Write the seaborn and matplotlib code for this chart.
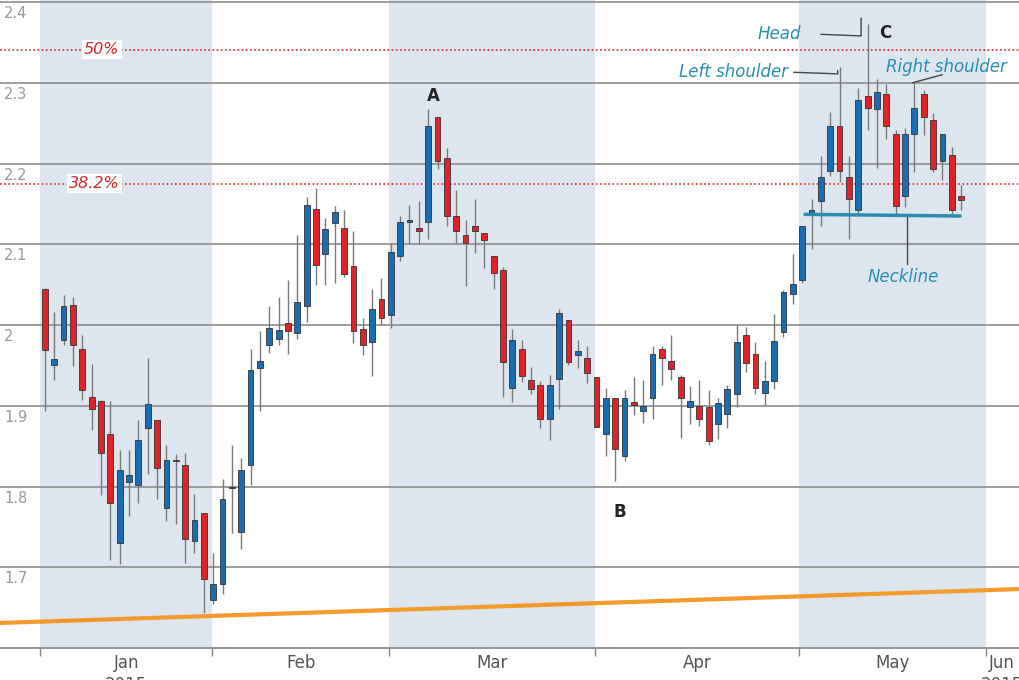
import matplotlib
matplotlib.use("Agg")
import matplotlib.pyplot as plt
import numpy as np
import pandas as pd
import seaborn as sns

# daily OHLC (trading-day index 0..98)
opens = [2.045, 1.951, 1.982, 2.025, 1.970, 1.911, 1.906, 1.865, 1.730, 1.805,
         1.802, 1.873, 1.882, 1.773, 1.832, 1.827, 1.733, 1.767, 1.659, 1.679,
         1.798, 1.744, 1.827, 1.947, 1.975, 1.983, 2.002, 1.990, 2.024, 2.144,
         2.088, 2.126, 2.120, 2.073, 1.995, 1.979, 2.032, 2.012, 2.086, 2.128,
         2.120, 2.128, 2.257, 2.207, 2.135, 2.111, 2.123, 2.114, 2.086, 2.068,
         1.922, 1.970, 1.932, 1.926, 1.884, 1.933, 2.006, 1.963, 1.959, 1.936,
         1.865, 1.910, 1.838, 1.905, 1.894, 1.909, 1.970, 1.956, 1.935, 1.898,
         1.900, 1.898, 1.877, 1.890, 1.915, 1.988, 1.964, 1.916, 1.931, 1.991,
         2.038, 2.056, 2.138, 2.154, 2.191, 2.247, 2.183, 2.143, 2.283, 2.267,
         2.286, 2.237, 2.160, 2.237, 2.286, 2.254, 2.203, 2.210, 2.160]
highs = [2.046, 2.016, 2.037, 2.035, 1.988, 1.952, 1.907, 1.906, 1.845, 1.845,
         1.882, 1.959, 1.882, 1.852, 1.840, 1.841, 1.791, 1.767, 1.718, 1.809,
         1.852, 1.835, 1.970, 1.993, 2.024, 2.035, 2.056, 2.112, 2.159, 2.170,
         2.133, 2.148, 2.143, 2.116, 2.009, 2.045, 2.058, 2.102, 2.135, 2.149,
         2.154, 2.267, 2.257, 2.219, 2.167, 2.130, 2.156, 2.114, 2.086, 2.072,
         1.995, 1.982, 1.948, 1.931, 1.938, 2.020, 2.006, 1.982, 1.974, 1.936,
         1.922, 1.910, 1.919, 1.935, 1.932, 1.974, 1.974, 1.988, 1.938, 1.925,
         1.932, 1.919, 1.909, 1.926, 2.000, 1.997, 1.979, 1.956, 2.014, 2.043,
         2.088, 2.123, 2.156, 2.209, 2.264, 2.319, 2.209, 2.294, 2.373, 2.305,
         2.299, 2.241, 2.244, 2.300, 2.291, 2.263, 2.236, 2.220, 2.173]
lows = [1.893, 1.932, 1.975, 1.949, 1.907, 1.870, 1.790, 1.709, 1.704, 1.764,
        1.779, 1.816, 1.785, 1.757, 1.753, 1.705, 1.718, 1.643, 1.654, 1.667,
        1.742, 1.723, 1.802, 1.893, 1.965, 1.975, 1.964, 1.983, 2.004, 2.049,
        2.049, 2.052, 2.060, 1.978, 1.963, 1.937, 2.000, 1.996, 2.079, 2.100,
        2.100, 2.106, 2.193, 2.122, 2.101, 2.048, 2.089, 2.070, 2.045, 1.911,
        1.905, 1.930, 1.914, 1.872, 1.858, 1.896, 1.951, 1.947, 1.928, 1.874,
        1.838, 1.807, 1.832, 1.888, 1.879, 1.883, 1.926, 1.932, 1.860, 1.877,
        1.875, 1.851, 1.859, 1.872, 1.898, 1.942, 1.914, 1.901, 1.921, 1.985,
        2.026, 2.052, 2.094, 2.123, 2.184, 2.177, 2.106, 2.137, 2.241, 2.195,
        2.230, 2.138, 2.146, 2.189, 2.235, 2.190, 2.180, 2.137, 2.143]
closes = [1.969, 1.958, 2.024, 1.975, 1.919, 1.896, 1.841, 1.780, 1.821, 1.814,
          1.857, 1.902, 1.823, 1.833, 1.831, 1.735, 1.759, 1.685, 1.679, 1.785,
          1.800, 1.821, 1.944, 1.956, 1.996, 1.994, 1.993, 2.028, 2.149, 2.074,
          2.119, 2.140, 2.063, 1.993, 1.975, 2.020, 2.009, 2.090, 2.128, 2.128,
          2.117, 2.247, 2.203, 2.135, 2.117, 2.101, 2.116, 2.105, 2.065, 1.954,
          1.982, 1.937, 1.921, 1.884, 1.926, 2.015, 1.954, 1.968, 1.941, 1.874,
          1.910, 1.847, 1.909, 1.901, 1.900, 1.964, 1.959, 1.946, 1.910, 1.906,
          1.884, 1.856, 1.904, 1.921, 1.979, 1.953, 1.922, 1.931, 1.980, 2.041,
          2.051, 2.123, 2.142, 2.183, 2.247, 2.191, 2.156, 2.279, 2.269, 2.289,
          2.247, 2.148, 2.236, 2.269, 2.257, 2.193, 2.236, 2.142, 2.155]

# month boundaries on the trading-day axis
month_edges = [-0.5, 17.9, 36.8, 58.8, 80.7, 100.7]
month_names = ["Jan", "Feb", "Mar", "Apr", "May", "Jun"]
shaded_months = [0, 2, 4]

grid_levels = [1.7, 1.8, 1.9, 2.0, 2.1, 2.2, 2.3, 2.4]
grid_labels = ["1.7", "1.8", "1.9", "2", "2.1", "2.2", "2.3", "2.4"]
fib_levels = [2.175, 2.341]
fib_labels = ["38.2%", "50%"]

trend_x = [-4.8, 104.3]
trend_y = [1.631, 1.673]
neck_x = [81.3, 97.9]
neck_y = [2.137, 2.135]

BLUE = "#1a6db3"
RED = "#e02329"
TEAL = "#2a8db0"
BAND = "#dde6ee"

df = pd.DataFrame({"open": opens, "high": highs, "low": lows, "close": closes})
df["i"] = np.arange(len(df))
df["up"] = df.close >= df.open

sns.set_theme(style="white")
fig = plt.figure(figsize=(10.2, 6.8), dpi=100)
ax = fig.add_axes([0, 32 / 680, 1, 648 / 680])
ax.set_xlim(-4.8, 104.3)
ax.set_ylim(1.6, 2.4025)

for m in shaded_months:
    ax.axvspan(month_edges[m], month_edges[m + 1], color=BAND, zorder=0, lw=0)
for g in grid_levels:
    ax.axhline(g, color="#8c8c8c", lw=1.2, zorder=1)
for g, lab in zip(grid_levels, grid_labels):
    ax.text(0.004, g - 0.005, lab, transform=ax.get_yaxis_transform(),
            ha="left", va="top", fontsize=10.5, color="#9a9a9a")
for f, lab in zip(fib_levels, fib_labels):
    ax.axhline(f, color="#d62728", lw=1.2, ls=(0, (1, 1.5)), zorder=1)
    ax.text(8.0, f, lab, ha="right", va="center", fontsize=11.5, style="italic",
            color="#d62728", bbox=dict(fc="white", ec="none", pad=1.5), zorder=2)

sns.lineplot(x=trend_x, y=trend_y, color="#f39a2b", lw=3, ax=ax, zorder=2)

colors = np.where(df.up, BLUE, RED)
ax.vlines(df.i, df.low, df.high, color="#7a7a7a", lw=1, zorder=3)
body_bot = np.minimum(df.open, df.close)
body_h = np.maximum(np.abs(df.close - df.open), 0.002)
ax.bar(df.i, body_h, bottom=body_bot, width=0.62, color=colors,
       edgecolor="#333333", linewidth=0.6, zorder=4)

sns.lineplot(x=neck_x, y=neck_y, color=TEAL, lw=2.5, ax=ax, zorder=5)

# annotations
ax.text(41.5, 2.278, "A", ha="center", fontsize=12, fontweight="bold", color="#222222")
ax.text(61.5, 1.762, "B", ha="center", fontsize=12, fontweight="bold", color="#222222")
ax.text(89.2, 2.355, "C", ha="left", fontsize=12, fontweight="bold", color="#222222")
ax.text(80.9, 2.36, "Head", ha="right", va="center", fontsize=12, style="italic", color=TEAL)
ax.plot([83.0, 87.3, 87.3], [2.36, 2.358, 2.38], color="#444444", lw=1)
ax.text(79.5, 2.313, "Left shoulder", ha="right", va="center", fontsize=12, style="italic", color=TEAL)
ax.plot([80.1, 84.8, 84.8], [2.313, 2.311, 2.315], color="#444444", lw=1)
ax.text(96.4, 2.32, "Right shoulder", ha="center", va="center", fontsize=12, style="italic", color=TEAL)
ax.plot([92.8, 96.0], [2.3, 2.31], color="#444444", lw=1)
ax.text(91.8, 2.06, "Neckline", ha="center", va="center", fontsize=12, style="italic", color=TEAL)
ax.plot([92.2, 92.2], [2.135, 2.076], color="#444444", lw=1)

mids = [(month_edges[k] + month_edges[k + 1]) / 2 for k in range(5)] + [102.4]
labels = [month_names[0] + "\n2015"] + month_names[1:5] + ["Jun\n2015"]
ax.set_xticks(mids)
ax.set_xticklabels(labels, fontsize=12, color="#555555", va="top", linespacing=1.3)
ax.set_xticks(month_edges, minor=True)
ax.tick_params(axis="x", which="major", length=0, pad=4)
ax.tick_params(axis="x", which="minor", length=6, color="#888888", bottom=True)
ax.set_yticks([])
for s in ["top", "left", "right"]:
    ax.spines[s].set_visible(False)
ax.spines["bottom"].set_color("#888888")

fig.savefig("out.png", dpi=100)
